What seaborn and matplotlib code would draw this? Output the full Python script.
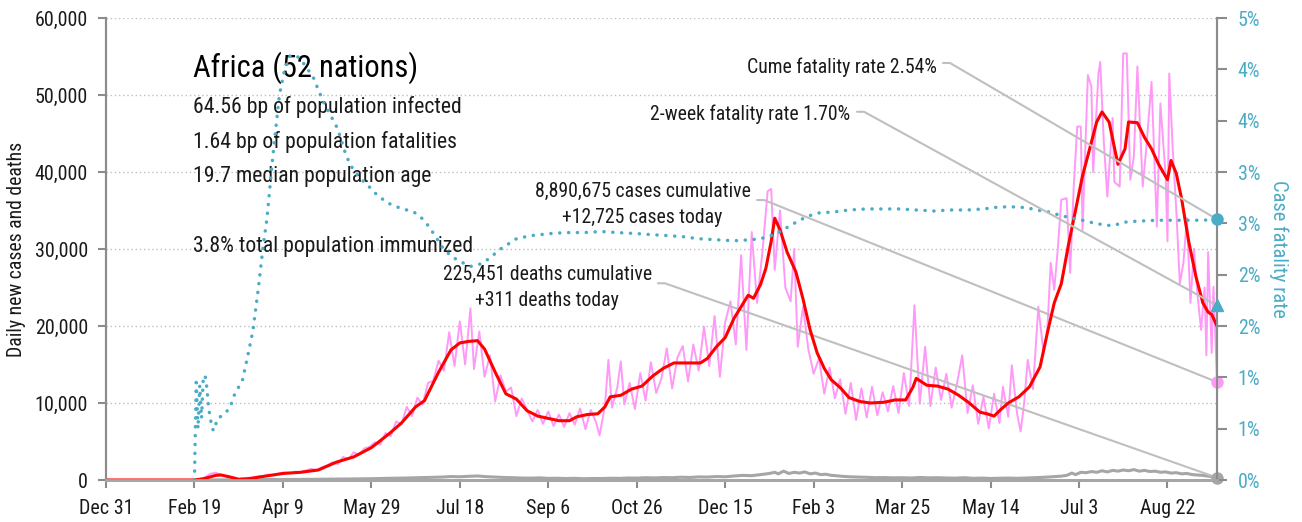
import math
import numpy as np
import pandas as pd
import matplotlib
matplotlib.use("Agg")
import matplotlib.pyplot as plt
from matplotlib import font_manager as fm
from matplotlib.ticker import FixedLocator, FuncFormatter
import seaborn as sns

START = pd.Timestamp("2019-12-31")

# ---------------- data (day offsets from Dec 31, 2019) ----------------
case_days = [50, 53, 56, 59, 62, 65, 68, 71, 74, 77, 80, 83, 86, 89, 92, 95, 98, 101, 104, 107,
             110, 113, 116, 119, 122, 125, 128, 131, 134, 137, 140, 143, 146, 149, 152, 155, 158, 161, 164, 167,
             170, 173, 176, 179, 182, 185, 188, 191, 194, 197, 200, 203, 206, 208, 211, 214, 217, 220, 223, 226,
             229, 232, 235, 238, 241, 244, 247, 250, 253, 256, 259, 262, 265, 268, 271, 274, 277, 279, 282, 284,
             286, 289, 291, 293, 296, 299, 302, 305, 308, 311, 314, 317, 320, 323, 326, 329, 332, 335, 338, 341,
             344, 347, 350, 353, 356, 359, 362, 365, 368, 371, 374, 376, 378, 381, 384, 387, 389, 391, 394, 397,
             400, 403, 406, 409, 412, 415, 418, 421, 424, 427, 430, 433, 436, 439, 442, 445, 448, 451, 454, 457,
             460, 463, 466, 469, 472, 475, 478, 481, 484, 487, 490, 493, 496, 499, 502, 505, 507, 510, 512, 515,
             517, 519, 521, 524, 527, 530, 532, 534, 536, 538, 540, 543, 545, 547, 549, 551, 552, 555, 557, 558,
             561, 562, 564, 566, 569, 570, 573, 575, 577, 579, 581, 583, 586, 588, 591, 594, 596, 599, 600, 601,
             603, 605, 607, 609, 611, 613, 615, 617, 619, 621, 622, 623, 625, 626, 628]
case_vals = [0, 150, 350, 800, 950, 700, 450, 250, 80, 200, 300, 260, 480, 520, 700, 640, 850, 980, 880, 1100,
             1000, 1250, 1450, 1250, 1650, 1900, 2300, 2050, 3000, 2700, 3600, 3250, 4100, 4300, 4900, 4600, 6100, 5700, 7600, 7200,
             9500, 8300, 10700, 9800, 12600, 12900, 15500, 14200, 19200, 14800, 20600, 15000, 22300, 14400, 19300, 13400, 16200, 10200, 13600, 11500,
             12000, 8300, 10600, 9100, 7600, 9100, 7300, 8900, 7000, 8500, 6900, 8700, 7200, 9300, 6600, 9100, 7500, 5800, 9600, 15600,
             9400, 12000, 15400, 9800, 12600, 9200, 13900, 10300, 15300, 11300, 13200, 17100, 11900, 15900, 17400, 12800, 17600, 14200, 19900, 14800,
             21300, 13400, 20500, 23200, 17600, 29200, 16900, 32200, 23000, 29500, 37500, 37800, 27300, 35000, 25000, 23200, 30000, 17300, 22500, 17000,
             13800, 15800, 11200, 14600, 10600, 13100, 8600, 12600, 7800, 11900, 8100, 12100, 8400, 11400, 8900, 12200, 8700, 13900, 9600, 22700,
             9900, 17300, 9600, 14600, 10400, 13800, 9400, 12500, 16200, 8700, 12300, 7300, 10800, 6700, 11200, 7400, 12100, 8200, 14900, 8600,
             6300, 10000, 15600, 11800, 22500, 16500, 19000, 28200, 24700, 30000, 36400, 36600, 26900, 38000, 45900, 45900, 32500, 52600, 51100, 40000,
             52800, 54300, 44000, 36800, 47000, 38700, 38100, 55400, 55400, 39000, 42000, 53700, 38100, 43000, 51700, 32900, 48900, 39400, 31000, 52800,
             42900, 35000, 25500, 28200, 34000, 23000, 30000, 24000, 19500, 25000, 16200, 29600, 16500, 25100, 12725]

avg_days = [0, 50, 55, 62, 65, 70, 75, 80, 90, 100, 110, 120, 130, 140, 150, 160, 167, 175, 180, 188,
            195, 200, 205, 210, 214, 220, 226, 232, 238, 244, 250, 256, 262, 266, 272, 278, 282, 285, 291, 297,
            303, 309, 315, 321, 330, 336, 340, 345, 350, 355, 359, 363, 366, 370, 373, 376, 378, 381, 385, 390,
            394, 398, 402, 406, 410, 415, 420, 426, 432, 440, 446, 452, 456, 458, 464, 470, 476, 482, 488, 494,
            498, 502, 506, 510, 516, 522, 528, 532, 536, 540, 544, 548, 552, 556, 560, 563, 567, 572, 576, 578,
            583, 587, 591, 595, 600, 602, 605, 608, 612, 616, 620, 623, 625, 628]
avg_vals = [0, 0, 150, 600, 650, 400, 100, 150, 500, 850, 1000, 1300, 2300, 3000, 4200, 6000, 7400, 9500, 10300, 14000,
            16900, 17800, 18000, 18100, 17000, 14000, 11200, 10500, 9000, 8300, 8000, 7700, 7700, 8200, 8500, 8600, 9500, 10800, 11000, 11800,
            12200, 13500, 14500, 15200, 15200, 15200, 15800, 17300, 18500, 21000, 22500, 24000, 23600, 25400, 27500, 31000, 34000, 32500, 29600, 27000,
            23500, 19500, 16500, 14500, 13000, 12000, 10700, 10200, 10000, 10100, 10400, 10400, 12000, 13200, 12300, 12200, 11800, 11000, 10000, 8800,
            8600, 8300, 9200, 10000, 10800, 12100, 14700, 19000, 23000, 25500, 30500, 35000, 39500, 43000, 46500, 47800, 46500, 41000, 43000, 46500,
            46400, 44500, 43000, 41000, 39000, 41500, 39800, 36500, 31000, 26500, 23000, 21800, 21500, 20000]

death_days = [50, 60, 70, 80, 90, 100, 110, 120, 130, 140, 150, 160, 170, 180, 190, 195, 200, 205, 210, 215,
              220, 225, 230, 235, 240, 245, 250, 255, 260, 265, 270, 275, 280, 285, 290, 295, 300, 305, 310, 315,
              320, 325, 330, 335, 340, 345, 350, 355, 360, 365, 370, 375, 378, 380, 383, 386, 389, 392, 395, 398,
              401, 404, 407, 410, 413, 416, 420, 425, 430, 435, 440, 445, 450, 455, 460, 465, 470, 475, 480, 485,
              490, 495, 500, 505, 510, 515, 520, 525, 530, 535, 540, 543, 546, 548, 551, 554, 557, 560, 563, 566,
              569, 572, 575, 578, 581, 584, 587, 590, 593, 596, 599, 602, 605, 608, 611, 614, 617, 620, 623, 626, 628]
death_vals = [0, 15, 25, 40, 55, 70, 80, 95, 120, 140, 170, 220, 260, 320, 380, 450, 420, 480, 520, 430,
              380, 330, 300, 260, 240, 280, 210, 230, 190, 220, 170, 200, 190, 230, 210, 260, 250, 300, 270, 320,
              300, 360, 330, 400, 380, 450, 420, 520, 600, 560, 700, 850, 1000, 800, 1150, 850, 1000, 900, 1050, 800,
              900, 700, 750, 600, 550, 480, 420, 380, 350, 300, 320, 280, 300, 260, 330, 280, 300, 260, 240, 300,
              220, 250, 200, 230, 250, 220, 260, 300, 350, 420, 500, 600, 900, 700, 1000, 950, 1100, 1000, 1200, 1050,
              1250, 1150, 1300, 1200, 1350, 1150, 1250, 1100, 1150, 1000, 1050, 900, 950, 800, 850, 700, 650, 600, 500, 400, 311]

cfr_days = [50, 51, 52, 53, 54, 55, 56, 57, 58, 60, 61, 63, 66, 70, 73, 77, 80, 83, 86, 89,
            91, 94, 98, 101, 104, 107, 110, 114, 117, 120, 123, 127, 131, 135, 138, 143, 148, 153, 159, 166,
            174, 178, 182, 186, 190, 195, 200, 206, 211, 216, 223, 232, 240, 251, 260, 270, 280, 289, 300, 308,
            318, 326, 335, 345, 355, 364, 370, 374, 379, 383, 388, 392, 397, 402, 411, 420, 430, 440, 449, 458,
            468, 477, 487, 496, 505, 515, 521, 526, 533, 539, 546, 552, 559, 566, 570, 575, 582, 594, 609, 620, 628]
cfr_vals = [0.0, 0.95, 0.5, 0.92, 0.6, 1.0, 1.02, 0.9, 0.7, 0.5, 0.48, 0.6, 0.63, 0.7, 0.85, 0.96, 1.2, 1.45, 1.85, 2.3,
            2.55, 3.1, 3.75, 4.0, 4.13, 4.14, 4.1, 4.0, 3.93, 3.8, 3.68, 3.55, 3.42, 3.2, 3.07, 2.95, 2.87, 2.78, 2.7, 2.65,
            2.61, 2.56, 2.48, 2.38, 2.27, 2.18, 2.13, 2.08, 2.1, 2.15, 2.25, 2.35, 2.38, 2.4, 2.41, 2.41, 2.42, 2.41, 2.4, 2.39,
            2.38, 2.37, 2.35, 2.34, 2.33, 2.34, 2.35, 2.37, 2.4, 2.44, 2.49, 2.53, 2.57, 2.6, 2.61, 2.63, 2.64, 2.64, 2.64, 2.63,
            2.62, 2.63, 2.63, 2.64, 2.66, 2.66, 2.65, 2.63, 2.61, 2.58, 2.55, 2.53, 2.5, 2.48, 2.48, 2.51, 2.52, 2.53, 2.53, 2.53, 2.54]

tick_days = [0, 50, 100, 150, 200, 250, 300, 350, 400, 450, 500, 550, 600]
left_ticks = [0, 10000, 20000, 30000, 40000, 50000, 60000]
right_ticks = [0.0, 0.5, 1.0, 1.5, 2.0, 2.5, 3.0, 3.5, 4.0, 4.5]

cum_cases = 8890675
today_cases = 12725
cum_deaths = 225451
today_deaths = 311
cume_rate = 2.54
two_week_rate = 1.70

title = "Africa (52 nations)"
info_lines = ["64.56 bp of population infected",
              "1.64 bp of population fatalities",
              "19.7 median population age",
              "3.8% total population immunized"]

# ---------------- style ----------------
PINK = "#ff99f7"
RED = "#ff0000"
GREY = "#a6a6a6"
TEAL = "#4bacc6"
LINE = "#bfbfbf"
AXIS = "#8c8c8c"
TXT = "#1a1a1a"

sns.set_theme(style="white")

# pick a narrow face if one is installed
names = {f.name for f in fm.fontManager.ttflist}
family, stretch = None, "normal"
for n in ["Roboto Condensed", "Liberation Sans Narrow", "DejaVu Sans Condensed",
          "Noto Sans Condensed", "Open Sans Condensed"]:
    if n in names:
        family = n
        break
if family is None:
    for f in fm.fontManager.ttflist:
        if f.stretch in ("condensed", "semi-condensed") and f.style == "normal":
            family, stretch = f.name, "condensed"
            break
narrow = family is not None
if family is None:
    family = "Roboto"
plt.rcParams["font.family"] = [family, "DejaVu Sans"]
plt.rcParams["font.stretch"] = stretch

k = 1.0 if narrow else 0.86
FS_TICK = 14.4 * k
FS_LABEL = 14.2 * k
FS_TITLE = 22 * k
FS_BODY = 15.7 * k
FS_NOTE = 14.2 * k


def to_date(days):
    return START + pd.to_timedelta(days, unit="D")


def day_label(v, pos=None):
    d = pd.Timestamp("1970-01-01") + pd.to_timedelta(round(v), unit="D")
    return f"{d:%b} {d.day}"


cases = pd.DataFrame({"date": to_date(case_days), "value": case_vals})
avg = pd.DataFrame({"date": to_date(avg_days), "value": avg_vals})
deaths = pd.DataFrame({"date": to_date(death_days), "value": death_vals})
cfr = pd.DataFrame({"date": to_date(cfr_days), "value": cfr_vals})
last = to_date(case_days[-1])

fig = plt.figure(figsize=(13.02, 5.22), dpi=100)
ax = fig.add_axes([106 / 1302, 1 - 480 / 522, 1111 / 1302, 462 / 522])
ax2 = ax.twinx()

sns.lineplot(data=cases, x="date", y="value", ax=ax, color=PINK, lw=1.4, zorder=2)
sns.lineplot(data=deaths, x="date", y="value", ax=ax, color=GREY, lw=2.2, zorder=3)
sns.lineplot(data=avg, x="date", y="value", ax=ax, color=RED, lw=2.2, zorder=4)
sns.lineplot(data=cfr, x="date", y="value", ax=ax2, color=TEAL, lw=2.5,
             linestyle=(0, (0.05, 2.5)), dash_capstyle="round", zorder=3)

# end-of-series markers
ax.plot([last], [today_cases], "o", color=PINK, ms=8, clip_on=False, zorder=6)
ax.plot([last], [today_deaths], "o", color=GREY, ms=8, clip_on=False, zorder=6)
ax2.plot([last], [cume_rate], "o", color=TEAL, ms=8, clip_on=False, zorder=6)
ax2.plot([last], [two_week_rate], "^", color=TEAL, ms=8, clip_on=False, zorder=6)

# axes limits and ticks
epoch = pd.Timestamp("1970-01-01")
ax.set_xlim(START, last)
ax.set_ylim(0, 60000)
ax2.set_ylim(0, 4.5)
ax.xaxis.set_major_locator(FixedLocator([(d - epoch).days for d in to_date(tick_days)]))
ax.xaxis.set_major_formatter(FuncFormatter(day_label))
ax.set_yticks(left_ticks)
ax.yaxis.set_major_formatter(FuncFormatter(lambda v, p: f"{int(v):,}"))
ax2.set_yticks(right_ticks)
ax2.set_yticklabels([f"{int(math.floor(v + 0.5))}%" for v in right_ticks])

ax.set_xlabel("")
ax.set_ylabel("Daily new cases and deaths", fontsize=FS_LABEL, color=TXT, labelpad=6)
ax2.set_ylabel("Case fatality rate", fontsize=FS_LABEL + 0.6, color=TEAL, rotation=270, labelpad=20)

ax.grid(False)
ax2.grid(False)
for v in left_ticks[1:]:
    ax.axhline(v, color=LINE, lw=1.0, ls=(0, (1, 2)), zorder=1)

for a in (ax, ax2):
    a.spines["top"].set_visible(False)
    a.spines["left"].set_color(AXIS)
    a.spines["right"].set_color(AXIS)
    a.spines["bottom"].set_color(GREY)
    a.spines["left"].set_linewidth(1.5)
    a.spines["right"].set_linewidth(1.5)
    a.spines["bottom"].set_linewidth(2.0)

ax.tick_params(axis="x", length=6, width=1.5, color=AXIS, labelsize=FS_TICK, labelcolor=TXT, pad=8, bottom=True)
ax.tick_params(axis="y", length=6, width=1.5, color=AXIS, labelsize=FS_TICK, labelcolor=TXT, pad=7, left=True)
ax2.tick_params(axis="y", length=7, width=1.5, color=AXIS, labelsize=FS_TICK, labelcolor=TEAL, pad=8, right=True)

# text block
ax.text(0.0783, 0.872, title, transform=ax.transAxes, fontsize=FS_TITLE, color="black", va="baseline", ha="left")
for txt, y in zip(info_lines, [0.795, 0.719, 0.644, 0.493]):
    ax.text(0.0783, y, txt, transform=ax.transAxes, fontsize=FS_BODY, color=TXT, va="baseline", ha="left")

ax.text(0.7477, 0.880, f"Cume fatality rate {cume_rate:.2f}%", transform=ax.transAxes,
        fontsize=FS_NOTE, color=TXT, ha="right", va="baseline")
ax.text(0.6697, 0.779, f"2-week fatality rate {two_week_rate:.2f}%", transform=ax.transAxes,
        fontsize=FS_NOTE, color=TXT, ha="right", va="baseline")
ax.text(0.4829, 0.613, f"{cum_cases:,} cases cumulative", transform=ax.transAxes,
        fontsize=FS_NOTE, color=TXT, ha="center", va="baseline")
ax.text(0.4829, 0.557, f"+{today_cases:,} cases today", transform=ax.transAxes,
        fontsize=FS_NOTE, color=TXT, ha="center", va="baseline")
ax.text(0.397, 0.433, f"{cum_deaths:,} deaths cumulative", transform=ax.transAxes,
        fontsize=FS_NOTE, color=TXT, ha="center", va="baseline")
ax.text(0.397, 0.377, f"+{today_deaths:,} deaths today", transform=ax.transAxes,
        fontsize=FS_NOTE, color=TXT, ha="center", va="baseline")

# leader lines from the labels to the latest values
conn = "arc,angleA=0,angleB=0,armA=7,armB=0,rad=0"
lp = dict(arrowstyle="-", color=LINE, lw=1.5, shrinkA=0, shrinkB=0, connectionstyle=conn)
ax2.annotate("", xy=(last, cume_rate), xycoords="data", xytext=(0.7534, 0.9026),
             textcoords="axes fraction", arrowprops=lp, annotation_clip=False)
ax2.annotate("", xy=(last, two_week_rate), xycoords="data", xytext=(0.676, 0.797),
             textcoords="axes fraction", arrowprops=lp, annotation_clip=False)
ax.annotate("", xy=(last, today_cases), xycoords="data", xytext=(0.586, 0.606),
            textcoords="axes fraction", arrowprops=lp, annotation_clip=False)
ax.annotate("", xy=(last, today_deaths), xycoords="data", xytext=(0.4968, 0.4258),
            textcoords="axes fraction", arrowprops=lp, annotation_clip=False)

fig.savefig("out.png", dpi=100, facecolor="white")
